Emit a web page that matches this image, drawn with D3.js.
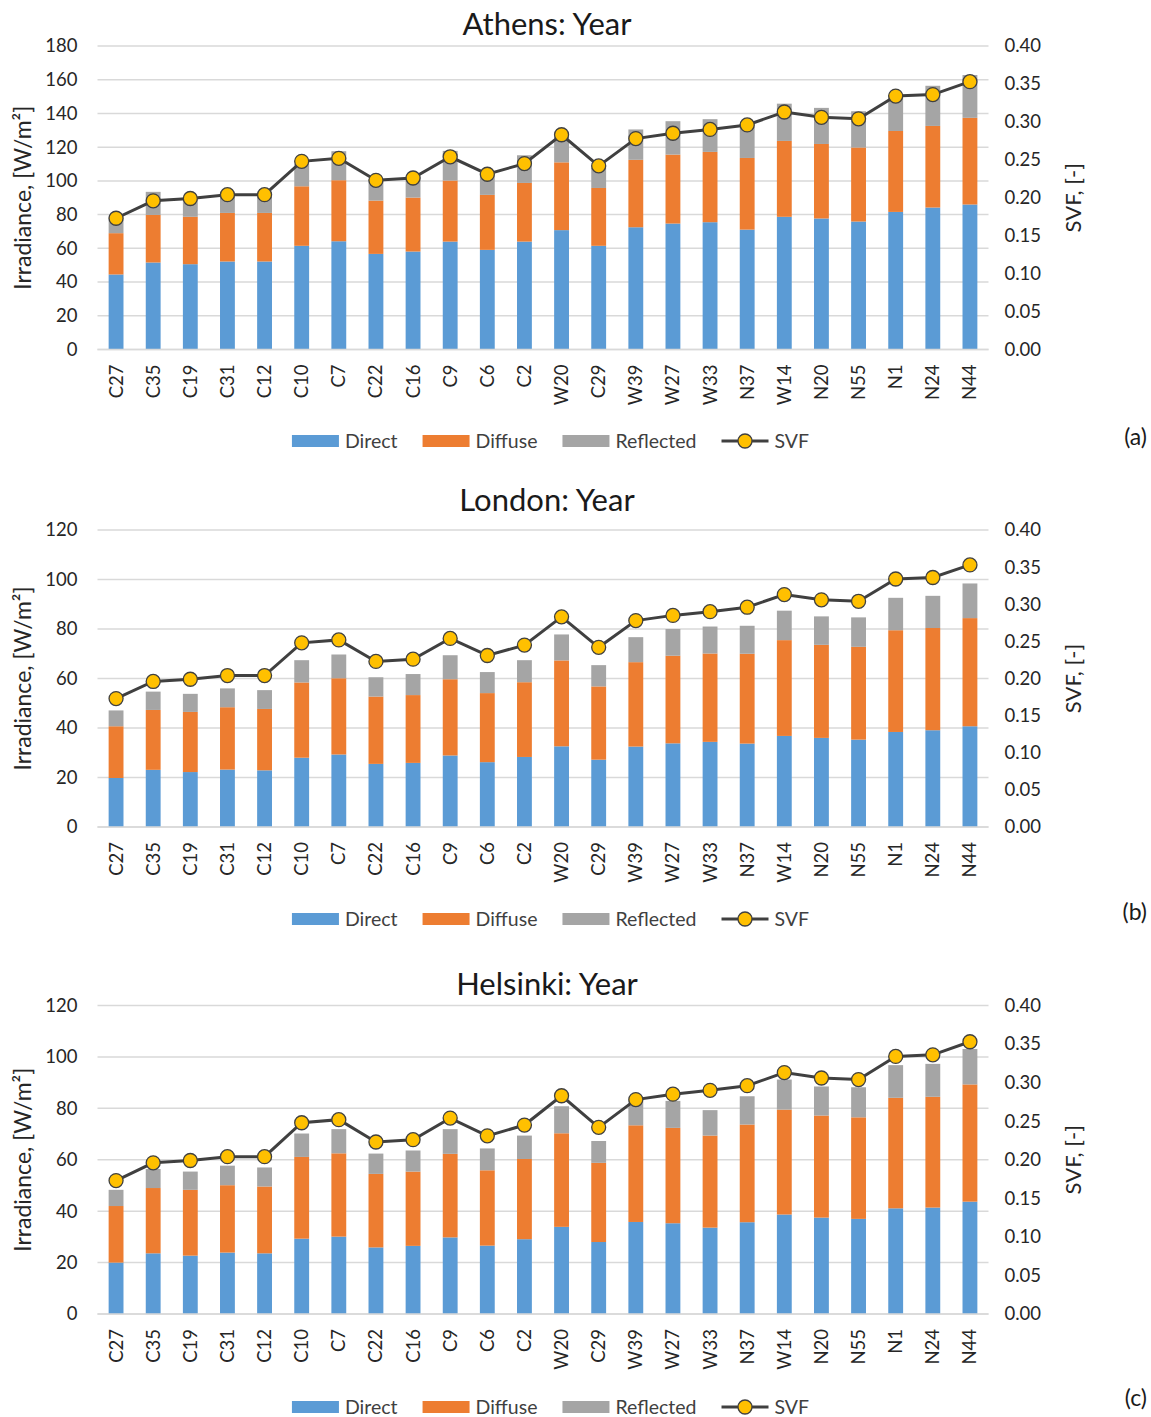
<!DOCTYPE html>
<html>
<head>
<meta charset="utf-8">
<script src="https://cdn.jsdelivr.net/npm/d3@7"></script>
<style>
  html, body { margin: 0; padding: 0; background: #ffffff; }
  svg { display: block; font-family: Lato, "Open Sans", "DejaVu Sans", sans-serif; }
</style>
</head>
<body>
<svg id="chart" width="1151" height="1417"></svg>
<script>
// Measurement points along the x axis
const categories = ["C27","C35","C19","C31","C12","C10","C7","C22","C16","C9","C6","C2",
                    "W20","C29","W39","W27","W33","N37","W14","N20","N55","N1","N24","N44"];

// Sky view factor per point (same geometry for every city)
const svf = [0.173,0.196,0.199,0.204,0.204,0.248,0.252,0.223,0.226,0.254,0.231,0.245,
             0.283,0.242,0.278,0.285,0.290,0.296,0.313,0.306,0.304,0.334,0.336,0.353];

// Annual mean irradiance components, W/m²
const athensDirect    = [44.5,51.6,50.6,52.2,52.2,61.5,64.2,56.7,58.1,64.0,59.1,64.0,
                         70.8,61.5,72.5,74.7,75.5,71.1,78.7,77.7,75.9,81.6,84.2,86.0];
const athensDiffuse   = [24.5,28.2,28.1,28.8,28.8,35.3,36.2,31.6,32.0,36.2,32.6,34.8,
                         40.2,34.3,40.0,40.9,41.7,42.5,45.0,44.2,43.9,48.0,48.4,51.4];
const athensReflected = [10.5,13.7,10.3,11.0,10.5,13.2,17.2,12.7,12.9,17.6,13.3,16.4,
                         16.0,12.2,18.0,19.8,19.4,20.4,22.1,21.4,21.5,21.4,23.8,25.4];

const londonDirect    = [19.8,23.1,22.2,23.2,22.9,28.0,29.3,25.5,25.9,28.9,26.2,28.3,
                         32.6,27.2,32.5,33.8,34.4,33.7,36.8,36.0,35.3,38.4,39.1,40.7];
const londonDiffuse   = [20.9,24.2,24.3,25.2,24.8,30.4,30.8,27.2,27.4,30.8,27.9,30.2,
                         34.7,29.6,34.1,35.4,35.7,36.3,38.7,37.6,37.5,41.1,41.3,43.7];
const londonReflected = [6.4,7.4,7.3,7.6,7.6,9.0,9.6,7.8,8.5,9.7,8.5,8.9,
                         10.5,8.6,10.1,10.8,10.9,11.3,11.9,11.5,11.9,13.1,13.0,14.0];

const helsinkiDirect    = [20.0,23.6,22.7,23.9,23.6,29.3,30.1,25.9,26.5,29.8,26.6,29.1,
                           33.9,28.0,35.8,35.3,33.6,35.7,38.7,37.5,37.0,41.1,41.4,43.7];
const helsinkiDiffuse   = [22.0,25.4,25.6,26.2,26.0,31.8,32.4,28.6,28.9,32.5,29.3,31.2,
                           36.4,30.8,37.6,37.1,35.8,38.0,40.8,39.7,39.5,43.0,43.1,45.6];
const helsinkiReflected = [6.3,7.4,7.1,7.6,7.4,9.1,9.4,7.9,8.2,9.6,8.5,9.1,
                           10.5,8.5,9.8,10.5,9.9,11.0,11.7,11.3,11.7,12.7,12.8,13.8];

// Axis ranges and tick spacing
const cityTitles   = ["Athens: Year", "London: Year", "Helsinki: Year"];
const panelTags    = ["(a)", "(b)", "(c)"];
const irrMaxima    = [180, 120, 120];
const irrTickSteps = [20, 20, 20];
const svfTicks     = [0, 0.05, 0.10, 0.15, 0.20, 0.25, 0.30, 0.35, 0.40];

const seriesNames  = ["Direct", "Diffuse", "Reflected"];
const seriesColors = ["#5B9BD5", "#ED7D31", "#A5A5A5"];

const cityData = [
  [athensDirect, athensDiffuse, athensReflected],
  [londonDirect, londonDiffuse, londonReflected],
  [helsinkiDirect, helsinkiDiffuse, helsinkiReflected]
];

// Vertical placement of the three panels
const layout = [
  { top: 46,   bottom: 349.5, titleY: 35,  legendY: 441,  tagY: 437 },
  { top: 530,  bottom: 827,   titleY: 511, legendY: 919,  tagY: 912 },
  { top: 1005.5, bottom: 1314, titleY: 995, legendY: 1407, tagY: 1398 }
];
const plotLeft = 97.5, plotRight = 988.5;

const svg = d3.select("#chart");
const textColor = "#262626";
const gridColor = "#D9D9D9";
const lineColor = "#404040";
const markerFill = "#FFC000";

const x = d3.scaleBand().domain(categories).range([plotLeft, plotRight]).paddingInner(0.6).paddingOuter(0.3);

cityData.forEach((comps, p) => {
  const L = layout[p];
  const g = svg.append("g");

  const y = d3.scaleLinear().domain([0, irrMaxima[p]]).range([L.bottom, L.top]);
  const y2 = d3.scaleLinear().domain([0, 0.4]).range([L.bottom, L.top]);
  const irrTicks = d3.range(0, irrMaxima[p] + 0.001, irrTickSteps[p]);

  // Horizontal gridlines
  g.append("g").selectAll("line").data(irrTicks).join("line")
    .attr("x1", plotLeft).attr("x2", plotRight)
    .attr("y1", d => y(d)).attr("y2", d => y(d))
    .attr("stroke", gridColor).attr("stroke-width", 1.5);

  // Left axis
  const leftAxis = g.append("g").attr("transform", `translate(${plotLeft},0)`)
    .call(d3.axisLeft(y).tickValues(irrTicks).tickFormat(d3.format("d")).tickSize(0).tickPadding(20));
  leftAxis.select(".domain").remove();
  leftAxis.selectAll("text").attr("font-size", 18.5).attr("fill", textColor).attr("font-family", "Lato");

  // Right axis (SVF)
  const rightAxis = g.append("g").attr("transform", `translate(${plotRight},0)`)
    .call(d3.axisRight(y2).tickValues(svfTicks).tickFormat(d3.format(".2f")).tickSize(0).tickPadding(16));
  rightAxis.select(".domain").remove();
  rightAxis.selectAll("text").attr("font-size", 18.5).attr("fill", textColor).attr("font-family", "Lato");

  // Stacked bars
  const rows = categories.map((c, i) => ({ cat: c, Direct: comps[0][i], Diffuse: comps[1][i], Reflected: comps[2][i] }));
  const stacked = d3.stack().keys(seriesNames)(rows);
  g.append("g").selectAll("g").data(stacked).join("g")
    .attr("fill", (d, i) => seriesColors[i])
    .selectAll("rect").data(d => d).join("rect")
    .attr("x", d => x(d.data.cat))
    .attr("width", x.bandwidth())
    .attr("y", d => y(d[1]))
    .attr("height", d => y(d[0]) - y(d[1]));

  // Bottom axis line
  g.append("line").attr("x1", plotLeft).attr("x2", plotRight)
    .attr("y1", L.bottom).attr("y2", L.bottom)
    .attr("stroke", gridColor).attr("stroke-width", 1.5);

  // Category labels, rotated
  const bottomAxis = g.append("g").attr("transform", `translate(0,${L.bottom})`)
    .call(d3.axisBottom(x).tickSize(0).tickPadding(0));
  bottomAxis.select(".domain").remove();
  bottomAxis.selectAll("text")
    .attr("font-size", 18.5).attr("fill", textColor).attr("font-family", "Lato")
    .attr("text-anchor", "end")
    .attr("transform", "translate(0,15) rotate(-90)")
    .attr("x", 0).attr("y", 0).attr("dy", "0.35em");

  // SVF line with markers
  const cx = c => x(c) + x.bandwidth() / 2;
  g.append("path").datum(categories)
    .attr("fill", "none").attr("stroke", lineColor).attr("stroke-width", 3)
    .attr("d", d3.line().x(c => cx(c)).y((c, i) => y2(svf[i])));
  g.append("g").selectAll("circle").data(categories).join("circle")
    .attr("cx", c => cx(c)).attr("cy", (c, i) => y2(svf[i]))
    .attr("r", 7).attr("fill", markerFill).attr("stroke", lineColor).attr("stroke-width", 1.3);

  // Titles
  g.append("text").attr("x", 547).attr("y", L.titleY).attr("text-anchor", "middle")
    .attr("font-size", 31).attr("fill", "#1a1a1a").text(cityTitles[p]);

  const midY = (L.top + L.bottom) / 2;
  g.append("text").attr("transform", `translate(23,${midY}) rotate(-90)`)
    .attr("text-anchor", "middle").attr("dy", "0.35em")
    .attr("font-size", 23).attr("fill", textColor).text("Irradiance, [W/m²]");
  g.append("text").attr("transform", `translate(1073,${midY}) rotate(-90)`)
    .attr("text-anchor", "middle").attr("dy", "0.35em")
    .attr("font-size", 22).attr("fill", textColor).text("SVF, [-]");

  // Panel tag
  g.append("text").attr("x", 1147).attr("y", L.tagY).attr("text-anchor", "end").attr("dy", "0.35em")
    .attr("font-size", 23).attr("fill", "#1a1a1a").text(panelTags[p]);

  // Legend
  const leg = g.append("g");
  const items = seriesNames.map((n, i) => ({ name: n, color: seriesColors[i], line: false }))
    .concat([{ name: "SVF", line: true }]);
  let cursor = 0;
  const swW = 47, gapText = 6, gapItem = 25;
  items.forEach(it => {
    const ig = leg.append("g").attr("transform", `translate(${cursor},0)`);
    if (it.line) {
      ig.append("line").attr("x1", 0).attr("x2", swW).attr("y1", 0).attr("y2", 0)
        .attr("stroke", lineColor).attr("stroke-width", 3);
      ig.append("circle").attr("cx", swW / 2).attr("cy", 0).attr("r", 7)
        .attr("fill", markerFill).attr("stroke", lineColor).attr("stroke-width", 1.3);
    } else {
      ig.append("rect").attr("x", 0).attr("y", -6).attr("width", swW).attr("height", 12).attr("fill", it.color);
    }
    const t = ig.append("text").attr("x", swW + gapText).attr("y", 0).attr("dy", "0.35em")
      .attr("font-size", 19.5).attr("fill", "#404040").text(it.name);
    cursor += swW + gapText + t.node().getComputedTextLength() + gapItem;
  });
  const legWidth = cursor - gapItem;
  leg.attr("transform", `translate(${550.5 - legWidth / 2},${L.legendY})`);
});
</script>
</body>
</html>
